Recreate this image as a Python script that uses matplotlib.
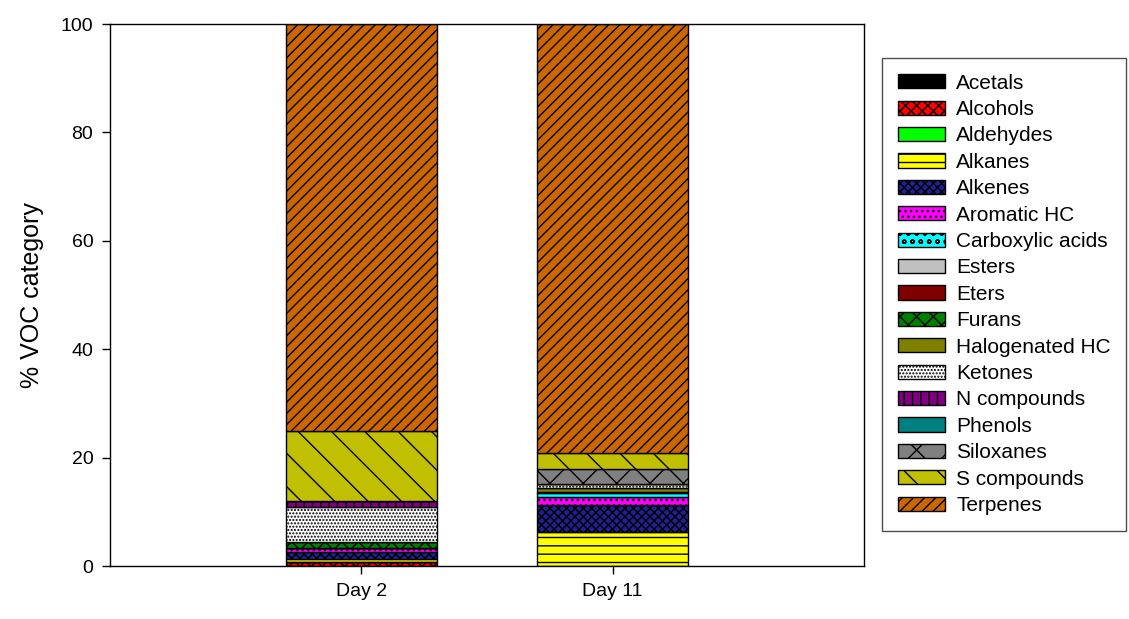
import matplotlib
matplotlib.use('Agg')
import matplotlib.pyplot as plt
import numpy as np

plt.rcParams['font.family'] = ['Liberation Sans', 'DejaVu Sans']
plt.rcParams['hatch.linewidth'] = 1.0

days = ['Day 2', 'Day 11']

categories = ['Acetals', 'Alcohols', 'Aldehydes', 'Alkanes', 'Alkenes', 'Aromatic HC',
              'Carboxylic acids', 'Esters', 'Eters', 'Furans', 'Halogenated HC',
              'Ketones', 'N compounds', 'Phenols', 'Siloxanes', 'S compounds', 'Terpenes']

# % of each VOC category per sampling day
day2 = [0.0, 0.65, 0.0, 0.6, 1.25, 0.75, 0.0, 0.0, 0.0, 1.1, 0.0,
        6.5, 1.2, 0.0, 0.0, 12.95, 75.0]
day11 = [0.0, 0.0, 0.0, 6.3, 5.0, 1.5, 0.6, 0.2, 0.0, 0.0, 0.85,
         0.6, 0.0, 0.0, 2.8, 3.0, 79.15]

colors = ['#000000', '#ff0000', '#00ff00', '#ffff00', '#202090', '#ff00ff',
          '#00ffff', '#c0c0c0', '#800000', '#008000', '#808000',
          '#ffffff', '#800080', '#008080', '#808080', '#c0c000', '#cc6600']
hatches = ['', 'xxx', '', '--', 'xxxx', '...', 'oo', '', '', 'xx', '',
           '.....', '||', '', 'x', '\\', '///']

values = np.array([day2, day11]).T

fig = plt.figure(figsize=(11.29, 6.19), dpi=100)
ax = fig.add_axes([0.0974, 0.0856, 0.668, 0.8756])

x = np.arange(1, len(days) + 1)
bottom = np.zeros(len(days))
for name, vals, c, h in zip(categories, values, colors, hatches):
    ax.bar(x, vals, width=0.6, bottom=bottom, color=c, hatch=h,
           edgecolor='black', linewidth=1.0, label=name)
    bottom += vals

ax.set_xlim(0, 3)
ax.set_ylim(0, 100)
ax.set_xticks(x)
ax.set_xticklabels(days)
ax.set_yticks(np.arange(0, 101, 20))
ax.tick_params(axis='both', direction='out', length=6, width=1, labelsize=14, pad=6)
ax.set_ylabel('% VOC category', fontsize=18, labelpad=12)
for s in ax.spines.values():
    s.set_linewidth(1.0)

leg = ax.legend(loc='upper left', bbox_to_anchor=(882 / 1129, 1 - 58 / 619),
                bbox_transform=fig.transFigure, fontsize=15, frameon=True,
                fancybox=False, edgecolor='#222222', handlelength=2.26,
                handleheight=0.67, labelspacing=0.355, borderpad=0.75,
                handletextpad=0.55, borderaxespad=0)
leg.get_frame().set_linewidth(1.0)

fig.savefig('out.png', dpi=100)
